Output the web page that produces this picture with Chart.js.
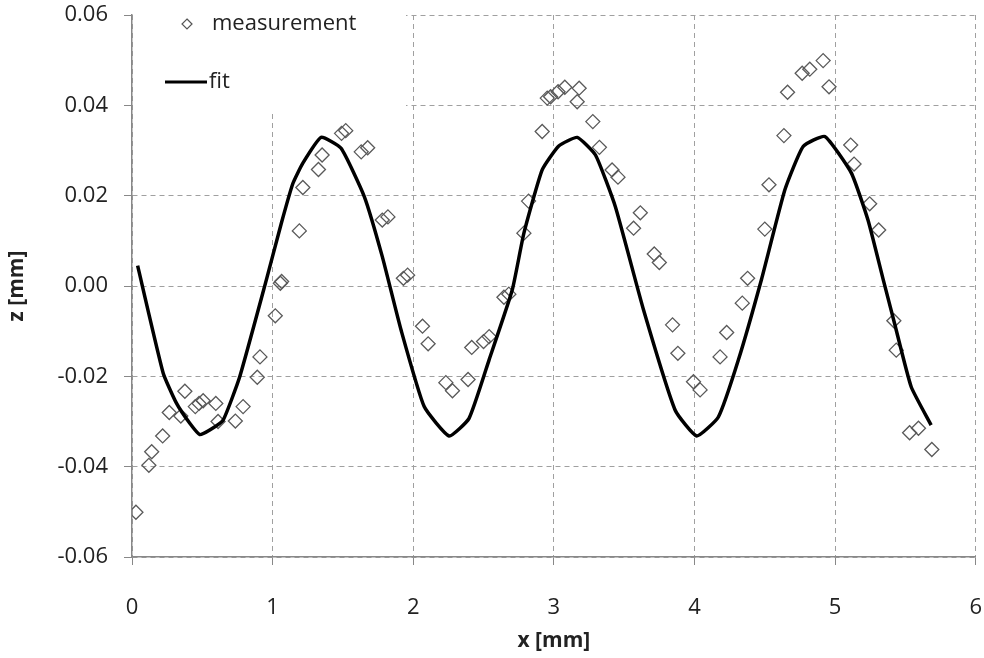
<!DOCTYPE html>
<html>
<head>
<meta charset="utf-8">
<script src="https://cdn.jsdelivr.net/npm/chart.js@4.4.0/dist/chart.umd.min.js"></script>
<style>
  html, body { margin: 0; padding: 0; background: #fff; }
  #wrap { width: 984px; height: 658px; }
</style>
</head>
<body>
<div id="wrap"><canvas id="profile-chart" width="984" height="658"></canvas></div>
<script>
// measured profile points, x [mm] and z [mm]
const measX = [0.028, 0.12, 0.14, 0.218, 0.265, 0.347, 0.376, 0.45, 0.477, 0.506,
  0.596, 0.612, 0.735, 0.79, 0.891, 0.91, 1.019, 1.055, 1.064, 1.19,
  1.215, 1.326, 1.352, 1.49, 1.52, 1.63, 1.676, 1.78, 1.82, 1.93,
  1.96, 2.066, 2.106, 2.232, 2.279, 2.39, 2.416, 2.50, 2.54, 2.645,
  2.68, 2.787, 2.82, 2.917, 2.953, 2.977, 3.03, 3.078, 3.166, 3.18,
  3.277, 3.324, 3.414, 3.456, 3.567, 3.615, 3.714, 3.75, 3.844, 3.882,
  3.993, 4.04, 4.182, 4.229, 4.34, 4.378, 4.50, 4.53, 4.636, 4.662,
  4.766, 4.82, 4.915, 4.957, 5.111, 5.135, 5.246, 5.31, 5.418, 5.435,
  5.53, 5.593, 5.688];
const measZ = [-0.0501, -0.0397, -0.0367, -0.0332, -0.028, -0.0288, -0.0233, -0.0267, -0.026, -0.0254,
  -0.026, -0.030, -0.0299, -0.0267, -0.0202, -0.0157, -0.0066, 0.0006, 0.001, 0.0122,
  0.0218, 0.0258, 0.029, 0.0338, 0.0344, 0.0297, 0.0306, 0.0146, 0.0153, 0.0017,
  0.0024, -0.0089, -0.0128, -0.0214, -0.0232, -0.0207, -0.0136, -0.0123, -0.0112, -0.0025,
  -0.0018, 0.0117, 0.0188, 0.0342, 0.0416, 0.0419, 0.043, 0.044, 0.0408, 0.0438,
  0.0364, 0.0307, 0.0257, 0.0241, 0.0128, 0.0162, 0.0071, 0.0052, -0.0086, -0.0149,
  -0.0212, -0.023, -0.0157, -0.0103, -0.0038, 0.0017, 0.0126, 0.0224, 0.0333, 0.0429,
  0.0471, 0.048, 0.0499, 0.0441, 0.0312, 0.027, 0.0182, 0.0124, -0.0077, -0.0142,
  -0.0325, -0.0315, -0.0362];

// fitted curve
const fitX = [0.04, 0.222, 0.317, 0.411, 0.482, 0.553, 0.648, 0.766, 0.955, 1.062,
  1.144, 1.215, 1.345, 1.487, 1.652, 1.78, 1.913, 2.078, 2.255, 2.397,
  2.539, 2.704, 2.787, 2.917, 3.035, 3.166, 3.296, 3.437, 3.638, 3.863,
  4.016, 4.17, 4.312, 4.477, 4.643, 4.773, 4.927, 5.116, 5.234, 5.34,
  5.423, 5.541, 5.683];
const fitZ = [0.0045, -0.0193, -0.026, -0.0304, -0.0329, -0.0319, -0.0297, -0.0201, 0.0013, 0.0139,
  0.0227, 0.0272, 0.0329, 0.0305, 0.0198, 0.0065, -0.0097, -0.0267, -0.0332, -0.0293,
  -0.0164, -0.0009, 0.0117, 0.0257, 0.031, 0.0329, 0.029, 0.0176, -0.0053, -0.0275,
  -0.0332, -0.029, -0.0164, 0.0015, 0.0213, 0.0309, 0.0331, 0.025, 0.0146, 0.0017,
  -0.0083, -0.0223, -0.0308];

const xTickLabels = ['0', '1', '2', '3', '4', '5', '6'];
const yTickLabels = ['-0.06', '-0.04', '-0.02', '0.00', '0.02', '0.04', '0.06'];

const FONT = "'Open Sans', 'DejaVu Sans', sans-serif";

// legend drawn in the upper left corner of the plot, on a white box
const boxLegend = {
  id: 'boxLegend',
  beforeDatasetsDraw(chart) {
    const ctx = chart.ctx;
    const a = chart.chartArea;
    ctx.save();
    ctx.fillStyle = '#fff';
    ctx.fillRect(a.left + 1, a.top - 1, 273, 96);
    ctx.restore();
  },
  afterDatasetsDraw(chart) {
    const ctx = chart.ctx;
    const a = chart.chartArea;
    ctx.save();
    // diamond
    const dx = a.left + 55, dy = a.top + 9;
    ctx.strokeStyle = '#555';
    ctx.lineWidth = 1.2;
    ctx.beginPath();
    ctx.moveTo(dx, dy - 5);
    ctx.lineTo(dx + 5, dy);
    ctx.lineTo(dx, dy + 5);
    ctx.lineTo(dx - 5, dy);
    ctx.closePath();
    ctx.stroke();
    ctx.fillStyle = '#222';
    ctx.font = "22px " + FONT;
    ctx.textBaseline = 'middle';
    ctx.fillText(chart.data.datasets[0].label, a.left + 80, dy);
    // line
    const ly = a.top + 67;
    ctx.strokeStyle = '#000';
    ctx.lineWidth = 3;
    ctx.beginPath();
    ctx.moveTo(a.left + 33, ly);
    ctx.lineTo(a.left + 75, ly);
    ctx.stroke();
    ctx.fillText(chart.data.datasets[1].label, a.left + 77, ly);
    ctx.restore();
  }
};

// keep the plot box where the reference has it
const noEdgePadding = s => {
  s.paddingLeft = 0; s.paddingRight = 0; s.paddingTop = 0; s.paddingBottom = 0;
};

new Chart(document.getElementById('profile-chart'), {
  type: 'scatter',
  data: {
    datasets: [
      {
        label: 'measurement',
        data: measX.map((x, i) => ({x: x, y: measZ[i]})),
        pointStyle: 'rectRot',
        pointRadius: 7,
        pointBorderWidth: 1.3,
        borderColor: '#5a5a5a',
        backgroundColor: 'rgba(0,0,0,0)',
        order: 2
      },
      {
        type: 'line',
        label: 'fit',
        data: fitX.map((x, i) => ({x: x, y: fitZ[i]})),
        borderColor: '#000',
        borderWidth: 3.5,
        pointRadius: 0,
        tension: 0.15,
        fill: false,
        order: 1
      }
    ]
  },
  options: {
    responsive: false,
    animation: false,
    layout: { padding: { top: 15, right: 8, left: 0, bottom: 0 } },
    plugins: {
      legend: { display: false },
      tooltip: { enabled: false }
    },
    scales: {
      x: {
        type: 'linear',
        min: 0,
        max: 6,
        afterFit: s => { s.height = 101; noEdgePadding(s); },
        ticks: {
          stepSize: 1,
          padding: 30,
          color: '#222',
          font: { family: FONT, size: 22 },
          callback: (v, i) => xTickLabels[i]
        },
        grid: { color: '#a0a0a0', tickColor: '#888', tickLength: 8, tickBorderDash: [] },
        border: { display: true, color: '#888', width: 1.5, dash: [5, 4] },
        title: {
          display: true,
          text: 'x [mm]',
          color: '#222',
          font: { family: FONT, size: 21, weight: 'bold' },
          padding: { top: 0, bottom: 4 }
        }
      },
      y: {
        type: 'linear',
        min: -0.06,
        max: 0.06,
        afterFit: s => { s.width = 132; noEdgePadding(s); },
        ticks: {
          stepSize: 0.02,
          padding: 16,
          color: '#222',
          font: { family: FONT, size: 22 },
          callback: (v, i) => yTickLabels[i]
        },
        grid: { color: '#a0a0a0', tickColor: '#888', tickLength: 8, tickBorderDash: [] },
        border: { display: true, color: '#888', width: 1.5, dash: [5, 4] },
        title: {
          display: true,
          text: 'z [mm]',
          color: '#222',
          font: { family: FONT, size: 21, weight: 'bold' },
          padding: { top: 4, bottom: 0 }
        }
      }
    }
  },
  plugins: [boxLegend]
});
</script>
</body>
</html>
